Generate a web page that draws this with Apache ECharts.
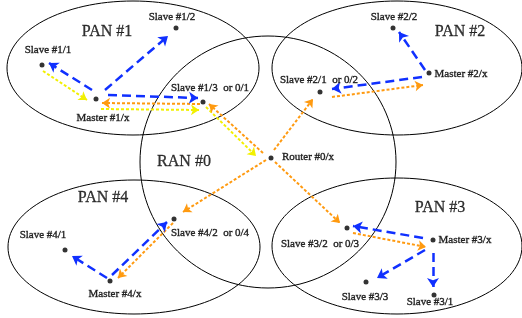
<!DOCTYPE html>
<html>
<head>
<meta charset="utf-8">
<script src="https://cdn.jsdelivr.net/npm/echarts@6/dist/echarts.min.js"></script>
<style>
html,body{margin:0;padding:0;background:#fff;}
#chart{width:522px;height:318px;}
</style>
</head>
<body>
<div id="chart"></div>
<script>
// 网络区域（椭圆）：中心x, 中心y, 半径x, 半径y
var areas = [
    [133, 68, 126, 67],   // PAN #1
    [397, 68, 125, 67],   // PAN #2
    [268, 162, 128, 126], // RAN #0
    [134, 247, 126, 67],  // PAN #4
    [397, 246, 125, 68]   // PAN #3
];
var areaNames = [['PAN #1', 107, 32], ['PAN #2', 460, 32], ['RAN #0', 184, 162], ['PAN #4', 103, 198], ['PAN #3', 440, 208]];

// 节点
var nodes = [
    ['Slave #1/1', 42, 65], ['Slave #1/2', 176, 28], ['Master #1/x', 96, 99], ['Slave #1/3', 203, 102],
    ['Router #0/x', 271, 158],
    ['Slave #2/1', 320, 92], ['Slave #2/2', 393, 28], ['Master #2/x', 429, 73],
    ['Slave #4/1', 65, 250], ['Slave #4/2', 174, 219], ['Master #4/x', 110, 281],
    ['Slave #3/2', 347, 228], ['Master #3/x', 433, 240], ['Slave #3/3', 366, 282], ['Slave #3/1', 434, 295]
];
// 节点文字
var nodeNames = [
    ['Slave #1/1', 48, 50], ['Slave #1/2', 172, 17], ['Slave #1/3  or 0/1', 210, 88], ['Master #1/x', 103, 118],
    ['Slave #2/2', 394, 17], ['Master #2/x', 461, 74], ['Slave #2/1  or 0/2', 319, 80], ['Router #0/x', 308, 157],
    ['Slave #4/1', 43, 235], ['Slave #4/2  or 0/4', 210, 233], ['Master #4/x', 115, 294],
    ['Slave #3/2  or 0/3', 320, 244], ['Master #3/x', 465, 240], ['Slave #3/3', 365, 297], ['Slave #3/1', 430, 302]
];

// 箭头：起点 -> 终点
var blueArrows = [
    [[92, 90], [49, 63]],
    [[105, 90], [168, 36]],
    [[108, 95], [198, 98]],
    [[425, 70], [399, 32]],
    [[422, 77], [332, 89]],
    [[107, 278], [72, 256]],
    [[112, 275], [167, 222]],
    [[423, 238], [353, 226]],
    [[425, 250], [377, 278]],
    [[433, 253], [433, 287]]
];
var orangeArrows = [
    [[200, 104], [102, 103]],
    [[263, 153], [209, 104]],
    [[274, 150], [313, 99]],
    [[332, 97], [423, 85]],
    [[266, 160], [183, 212]],
    [[173, 223], [118, 278]],
    [[275, 162], [340, 223]],
    [[353, 233], [426, 247]]
];
var yellowArrows = [
    [[43, 71], [87, 100]],
    [[101, 109], [199, 110]],
    [[206, 107], [256, 156]]
];

var chart = echarts.init(document.getElementById('chart'));

function arrowSeries (list, color, width, dash, size) {
    return {
        type: 'lines',
        coordinateSystem: 'cartesian2d',
        symbol: ['none', 'arrow'],
        symbolSize: size,
        silent: true,
        lineStyle: {
            color: color,
            width: width,
            type: dash,
            opacity: 1
        },
        data: list.map(function (c) { return {coords: c}; })
    };
}

var font = 'Liberation Serif';
var option = {
    animation: false,
    backgroundColor: '#fff',
    grid: {left: 0, right: 0, top: 0, bottom: 0},
    xAxis: {type: 'value', min: 0, max: 522, show: false},
    yAxis: {type: 'value', min: 0, max: 318, inverse: true, show: false},
    series: [
        {
            type: 'custom',
            silent: true,
            data: areas,
            renderItem: function (params, api) {
                var c = api.coord([api.value(0), api.value(1)]);
                var s = api.size([api.value(2), api.value(3)]);
                return {
                    type: 'ellipse',
                    shape: {cx: c[0], cy: c[1], rx: s[0], ry: s[1]},
                    style: {fill: 'none', stroke: '#000', lineWidth: 1}
                };
            }
        },
        arrowSeries(yellowArrows, '#f2f000', 2, [3, 2], 8),
        arrowSeries(orangeArrows, '#ff9a10', 2, [3, 2], 8),
        arrowSeries(blueArrows, '#1030ff', 2.5, [9, 5], 9),
        {
            type: 'scatter',
            symbolSize: 5,
            itemStyle: {color: '#000'},
            data: nodes.map(function (n) { return {name: n[0], value: [n[1], n[2]]}; })
        },
        {
            type: 'scatter',
            symbolSize: 0,
            label: {
                show: true, position: 'inside', formatter: '{b}', color: '#000',
                fontFamily: font, fontSize: 11, textBorderColor: '#000', textBorderWidth: 0.4
            },
            data: nodeNames.map(function (n) { return {name: n[0], value: [n[1], n[2]]}; })
        },
        {
            type: 'scatter',
            symbolSize: 0,
            label: {
                show: true, position: 'inside', formatter: '{b}', color: '#000',
                fontFamily: font, fontSize: 16, textBorderColor: '#000', textBorderWidth: 0.3
            },
            data: areaNames.map(function (n) { return {name: n[0], value: [n[1], n[2]]}; })
        }
    ]
};
chart.setOption(option);
</script>
</body>
</html>
